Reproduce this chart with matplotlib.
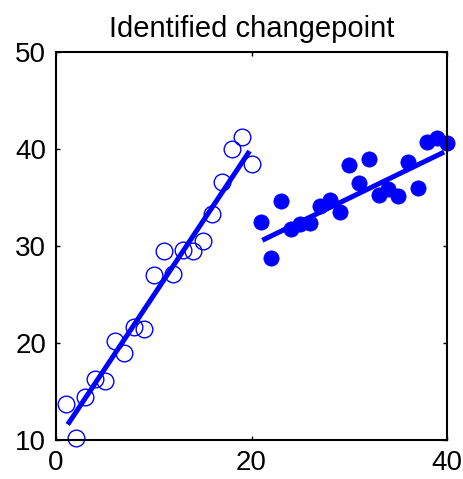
import numpy as np
import matplotlib
matplotlib.use("Agg")
import matplotlib.pyplot as plt

plt.rcParams["font.family"] = ["Liberation Sans", "DejaVu Sans"]

# before the changepoint (open circles)
x_before = [1, 2, 3, 4, 5, 6, 7, 8, 9, 10, 11, 12, 13, 14, 15, 16, 17, 18, 19, 20]
y_before = [13.7, 10.2, 14.4, 16.3, 16.1, 20.2, 19.0, 21.7, 21.5, 27.0,
            29.5, 27.1, 29.6, 29.5, 30.5, 33.3, 36.6, 40.0, 41.3, 38.5]

# after the changepoint (filled circles)
x_after = [21, 22, 23, 24, 25, 26, 27, 28, 29, 30,
           31, 32, 33, 34, 35, 36, 37, 38, 39, 40]
y_after = [32.5, 28.8, 34.7, 31.8, 32.3, 32.4, 34.1, 34.8, 33.5, 38.4,
           36.5, 39.0, 35.3, 35.9, 35.2, 38.7, 36.0, 40.7, 41.2, 40.6]

# fitted segments (end points)
fit_before_x = [1.2, 19.8]
fit_before_y = [11.6, 39.8]
fit_after_x = [21.1, 39.7]
fit_after_y = [30.6, 39.7]

BLUE = "#0000ff"

fig = plt.figure(figsize=(4.63, 4.79), dpi=100)
ax = fig.add_axes([0.121, 0.0814, 0.8445, 0.8096])

ax.plot(fit_before_x, fit_before_y, color=BLUE, linewidth=3.6,
        solid_capstyle="butt", zorder=2)
ax.plot(fit_after_x, fit_after_y, color=BLUE, linewidth=3.6,
        solid_capstyle="butt", zorder=2)

ax.plot(x_before, y_before, "o", ms=12, mfc="none", mec=BLUE, mew=1.0,
        zorder=2.2, clip_on=False)
ax.plot(x_after, y_after, "o", ms=11, mfc=BLUE, mec=BLUE, mew=0.5,
        zorder=2.2, clip_on=False)

ax.set_xlim(0, 40)
ax.set_ylim(10, 50)
ax.set_xticks([0, 20, 40])
ax.set_yticks([10, 20, 30, 40, 50])
ax.tick_params(direction="in", top=True, right=True, length=3, width=1,
               labelsize=20, pad=7)
for s in ax.spines.values():
    s.set_linewidth(1.5)

ax.set_title("Identified changepoint", fontsize=21, pad=11)

fig.savefig("out.png", dpi=100)
